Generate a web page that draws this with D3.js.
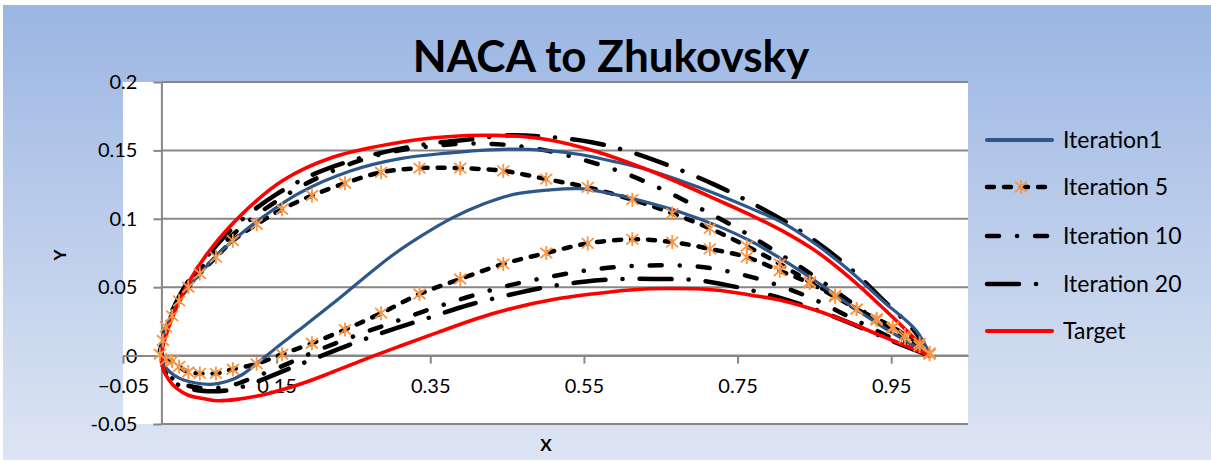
<!DOCTYPE html>
<html>
<head>
<meta charset="utf-8">
<script src="https://cdn.jsdelivr.net/npm/d3@7"></script>
<style>
  body { margin: 0; background: #ffffff; }
  svg { display: block; }
</style>
</head>
<body>
<svg id="chart" width="1211" height="463"></svg>
<script>
// ---- data ---------------------------------------------------------------
const chartTitle = "NACA to Zhukovsky";
const seriesNames = ["Iteration1", "Iteration 5", "Iteration 10", "Iteration 20", "Target"];
const xTickValues = [-0.05, 0.15, 0.35, 0.55, 0.75, 0.95];
const yTickValues = [-0.05, 0, 0.05, 0.1, 0.15, 0.2];
const yTickLabels = ["-0.05", "0", "0.05", "0.1", "0.15", "0.2"];

// each contour runs trailing edge -> upper surface -> leading edge -> lower surface -> trailing edge
const iteration1 = [
  [1.000, 0.001], [0.983, 0.018], [0.939, 0.040], [0.896, 0.062], [0.853, 0.081],
  [0.809, 0.097], [0.766, 0.108], [0.723, 0.118], [0.675, 0.128], [0.632, 0.136],
  [0.588, 0.142], [0.545, 0.147], [0.500, 0.150], [0.458, 0.151], [0.415, 0.150],
  [0.372, 0.148], [0.311, 0.144], [0.246, 0.135], [0.180, 0.119], [0.124, 0.098],
  [0.085, 0.080], [0.063, 0.068], [0.037, 0.051], [0.018, 0.035], [0.005, 0.018],
  [0.000, 0.002],
  [0.003, -0.006], [0.011, -0.012], [0.025, -0.017], [0.045, -0.020], [0.065, -0.021],
  [0.085, -0.019], [0.105, -0.014], [0.124, -0.006], [0.150, 0.006], [0.180, 0.019],
  [0.223, 0.038], [0.262, 0.056], [0.300, 0.073], [0.340, 0.088], [0.380, 0.101],
  [0.420, 0.111], [0.460, 0.118], [0.502, 0.121], [0.545, 0.122], [0.588, 0.118],
  [0.632, 0.112], [0.675, 0.105], [0.723, 0.095], [0.766, 0.084], [0.809, 0.070],
  [0.853, 0.054], [0.896, 0.037], [0.939, 0.021], [0.983, 0.006], [1.000, 0.000]
];

const iteration5 = [
  [1.000, 0.002], [0.987, 0.009], [0.968, 0.015], [0.952, 0.021], [0.931, 0.027],
  [0.905, 0.034], [0.877, 0.044], [0.844, 0.054], [0.805, 0.067], [0.762, 0.080],
  [0.714, 0.093], [0.665, 0.104], [0.613, 0.114], [0.555, 0.123], [0.501, 0.129],
  [0.445, 0.135], [0.389, 0.137], [0.336, 0.137], [0.286, 0.134], [0.239, 0.126],
  [0.196, 0.117], [0.157, 0.107], [0.124, 0.096], [0.093, 0.084], [0.071, 0.072],
  [0.050, 0.060], [0.035, 0.050], [0.023, 0.040], [0.014, 0.029], [0.006, 0.021],
  [0.002, 0.011], [-0.002, 0.001],
  [0.006, -0.003], [0.014, -0.004], [0.023, -0.008], [0.035, -0.012], [0.050, -0.013],
  [0.071, -0.013], [0.093, -0.010], [0.124, -0.006], [0.157, 0.001], [0.196, 0.009],
  [0.239, 0.019], [0.286, 0.031], [0.336, 0.045], [0.389, 0.056], [0.445, 0.067],
  [0.501, 0.075], [0.555, 0.082], [0.613, 0.085], [0.665, 0.083], [0.714, 0.078],
  [0.762, 0.072], [0.805, 0.062], [0.844, 0.053], [0.877, 0.043], [0.905, 0.034],
  [0.931, 0.026], [0.952, 0.020], [0.968, 0.013], [0.987, 0.007], [1.000, 0.001]
];

const iteration10 = [
  [1.000, 0.000], [0.950, 0.018], [0.900, 0.038], [0.850, 0.058], [0.800, 0.076],
  [0.750, 0.093], [0.700, 0.108], [0.650, 0.122], [0.600, 0.134], [0.550, 0.143],
  [0.500, 0.150], [0.450, 0.154], [0.400, 0.155], [0.350, 0.153], [0.300, 0.149],
  [0.250, 0.141], [0.200, 0.129], [0.150, 0.113], [0.100, 0.092], [0.060, 0.069],
  [0.030, 0.047], [0.012, 0.028], [0.003, 0.012], [0.000, 0.000],
  [0.005, -0.010], [0.015, -0.017], [0.035, -0.022], [0.060, -0.024], [0.090, -0.022],
  [0.120, -0.016], [0.160, -0.007], [0.200, 0.003], [0.250, 0.014], [0.300, 0.024],
  [0.350, 0.034], [0.400, 0.043], [0.450, 0.051], [0.500, 0.057], [0.550, 0.062],
  [0.600, 0.065], [0.650, 0.066], [0.700, 0.065], [0.750, 0.060], [0.800, 0.052],
  [0.850, 0.041], [0.900, 0.027], [0.950, 0.013], [1.000, 0.000]
];

const iteration20 = [
  [1.000, 0.000], [0.983, 0.016], [0.939, 0.041], [0.896, 0.064], [0.853, 0.083],
  [0.809, 0.099], [0.760, 0.114], [0.720, 0.125], [0.665, 0.138], [0.610, 0.149],
  [0.560, 0.156], [0.500, 0.160], [0.450, 0.161], [0.400, 0.158], [0.350, 0.155],
  [0.300, 0.150], [0.250, 0.143], [0.200, 0.133], [0.150, 0.118], [0.100, 0.097],
  [0.060, 0.073], [0.030, 0.050], [0.012, 0.030], [0.003, 0.013], [0.000, 0.000],
  [0.004, -0.011], [0.015, -0.019], [0.035, -0.024], [0.060, -0.026], [0.090, -0.025],
  [0.120, -0.020], [0.160, -0.011], [0.200, -0.002], [0.250, 0.009], [0.300, 0.019],
  [0.350, 0.028], [0.400, 0.037], [0.450, 0.044], [0.500, 0.050], [0.550, 0.054],
  [0.600, 0.056], [0.650, 0.056], [0.700, 0.055], [0.750, 0.050], [0.800, 0.043],
  [0.850, 0.034], [0.900, 0.023], [0.950, 0.011], [1.000, 0.000]
];

const target = [
  [1.000, 0.000], [0.983, 0.011], [0.939, 0.035], [0.896, 0.057], [0.853, 0.076],
  [0.809, 0.091], [0.766, 0.103], [0.723, 0.114], [0.675, 0.126], [0.632, 0.136],
  [0.567, 0.149], [0.502, 0.158], [0.435, 0.161], [0.372, 0.160], [0.311, 0.156],
  [0.223, 0.145], [0.158, 0.128], [0.106, 0.104], [0.063, 0.077], [0.037, 0.055],
  [0.015, 0.029], [0.005, 0.013], [0.000, 0.002],
  [0.002, -0.009], [0.010, -0.018], [0.020, -0.024], [0.035, -0.029], [0.050, -0.031],
  [0.072, -0.033], [0.098, -0.032], [0.137, -0.028], [0.180, -0.021], [0.223, -0.012],
  [0.268, -0.002], [0.311, 0.007], [0.360, 0.017], [0.410, 0.027], [0.460, 0.035],
  [0.510, 0.041], [0.560, 0.045], [0.610, 0.048], [0.660, 0.049], [0.720, 0.048],
  [0.770, 0.044], [0.810, 0.040], [0.853, 0.033], [0.896, 0.024], [0.939, 0.014],
  [0.983, 0.004], [1.000, 0.000]
];

// ---- layout ---------------------------------------------------------------
const W = 1211, H = 463;
const plot = { left: 123, right: 968, top: 82, bottom: 424 };
const svg = d3.select("#chart");
const FONT = "Lato, 'Open Sans', sans-serif";

const defs = svg.append("defs");
const grad = defs.append("linearGradient").attr("id", "bg").attr("x1", 0).attr("y1", 0).attr("x2", 0).attr("y2", 1);
grad.append("stop").attr("offset", "0%").attr("stop-color", "#9bb6e3");
grad.append("stop").attr("offset", "100%").attr("stop-color", "#dde5f3");

svg.append("rect").attr("x", 3).attr("y", 5).attr("width", W - 3).attr("height", H - 8)
  .attr("fill", "url(#bg)");

const x = d3.scaleLinear().domain([-0.05, 1.05]).range([plot.left, plot.right]);
const y = d3.scaleLinear().domain([-0.05, 0.2]).range([plot.bottom, plot.top]);

svg.append("rect").attr("x", plot.left).attr("y", plot.top)
  .attr("width", plot.right - plot.left).attr("height", plot.bottom - plot.top)
  .attr("fill", "#ffffff");

const axisColor = "#878787";

// horizontal gridlines
svg.append("g").selectAll("line").data(yTickValues).join("line")
  .attr("x1", x(0)).attr("x2", plot.right)
  .attr("y1", d => y(d)).attr("y2", d => y(d))
  .attr("stroke", axisColor).attr("stroke-width", 2);

// vertical axis, crossing at x = 0
const yAxis = d3.axisLeft(y).tickValues(yTickValues)
  .tickFormat((d, i) => yTickLabels[i]).tickSize(8).tickSizeOuter(0).tickPadding(16);
const gy = svg.append("g").attr("transform", `translate(${x(0)},0)`).call(yAxis);
gy.select(".domain").attr("stroke", axisColor).attr("stroke-width", 2);
gy.selectAll(".tick line").attr("stroke", axisColor).attr("stroke-width", 2);
gy.selectAll(".tick text").attr("font-family", FONT).attr("font-size", 20).attr("fill", "#000");

// horizontal axis, crossing at y = 0
const xAxis = d3.axisBottom(x).tickValues(xTickValues)
  .tickFormat(d3.format(".2f")).tickSize(8).tickSizeOuter(0).tickPadding(15);
const gx = svg.append("g").attr("transform", `translate(0,${y(0)})`).call(xAxis);
gx.select(".domain").attr("stroke", axisColor).attr("stroke-width", 2);
gx.selectAll(".tick line").attr("stroke", axisColor).attr("stroke-width", 2);
gx.selectAll(".tick text").attr("font-family", FONT).attr("font-size", 20).attr("fill", "#000");

// ---- series -----------------------------------------------------------------
const styles = {
  "Iteration1":   { data: iteration1,  color: "#2d5689", width: 3.2, dash: null },
  "Iteration 5":  { data: iteration5,  color: "#000000", width: 4.5, dash: "7,10", marker: true },
  "Iteration 10": { data: iteration10, color: "#000000", width: 4.5, dash: "12,18,0.1,18" },
  "Iteration 20": { data: iteration20, color: "#000000", width: 4.5, dash: "32,17,0.1,17" },
  "Target":       { data: target,      color: "#ff0000", width: 3.6, dash: null }
};

const line = d3.line().x(d => x(d[0])).y(d => y(d[1])).curve(d3.curveCatmullRom.alpha(0.5));
const drawOrder = ["Iteration 20", "Iteration 10", "Iteration 5", "Iteration1", "Target"];
const gSeries = svg.append("g");
drawOrder.forEach(name => {
  const s = styles[name];
  gSeries.append("path").datum(s.data).attr("d", line)
    .attr("fill", "none").attr("stroke", s.color).attr("stroke-width", s.width)
    .attr("stroke-linecap", "round").attr("stroke-linejoin", "round")
    .attr("stroke-dasharray", s.dash);
});

const markerColor = "#f79646";
function asterisk(g, cx, cy) {
  const r = 7, rx = 6;
  g.append("path")
    .attr("d", `M${cx},${cy - r}L${cx},${cy + r}M${cx - rx},${cy - r * 0.75}L${cx + rx},${cy + r * 0.75}M${cx - rx},${cy + r * 0.75}L${cx + rx},${cy - r * 0.75}`)
    .attr("stroke", markerColor).attr("stroke-width", 1.8).attr("fill", "none");
}
const gMarkers = svg.append("g");
iteration5.forEach(d => asterisk(gMarkers, x(d[0]), y(d[1])));

// ---- legend -----------------------------------------------------------------
const legendY = [140, 187, 236, 284, 331];
const lg = svg.append("g");
seriesNames.forEach((name, i) => {
  const s = styles[name];
  const ly = legendY[i];
  lg.append("line").attr("x1", 987).attr("x2", 1052).attr("y1", ly).attr("y2", ly)
    .attr("stroke", s.color).attr("stroke-width", s.dash ? 4.5 : 4.2)
    .attr("stroke-linecap", "round").attr("stroke-dasharray", s.dash);
  if (s.marker) asterisk(lg, 1021, ly);
  lg.append("text").attr("x", 1063).attr("y", ly).attr("dy", "0.35em")
    .attr("font-family", FONT).attr("font-size", 23).attr("fill", "#000").text(name);
});

// ---- titles -----------------------------------------------------------------
svg.append("text").attr("x", 611).attr("y", 72).attr("text-anchor", "middle")
  .attr("font-family", FONT).attr("font-weight", 700).attr("font-size", 44)
  .attr("fill", "#000").text(chartTitle);
svg.append("text").attr("x", 546).attr("y", 451).attr("text-anchor", "middle")
  .attr("font-family", FONT).attr("font-weight", 700).attr("font-size", 17).text("X");
svg.append("text").attr("transform", "translate(66,255) rotate(-90)").attr("text-anchor", "middle")
  .attr("font-family", FONT).attr("font-weight", 700).attr("font-size", 17).text("Y");
</script>
</body>
</html>
